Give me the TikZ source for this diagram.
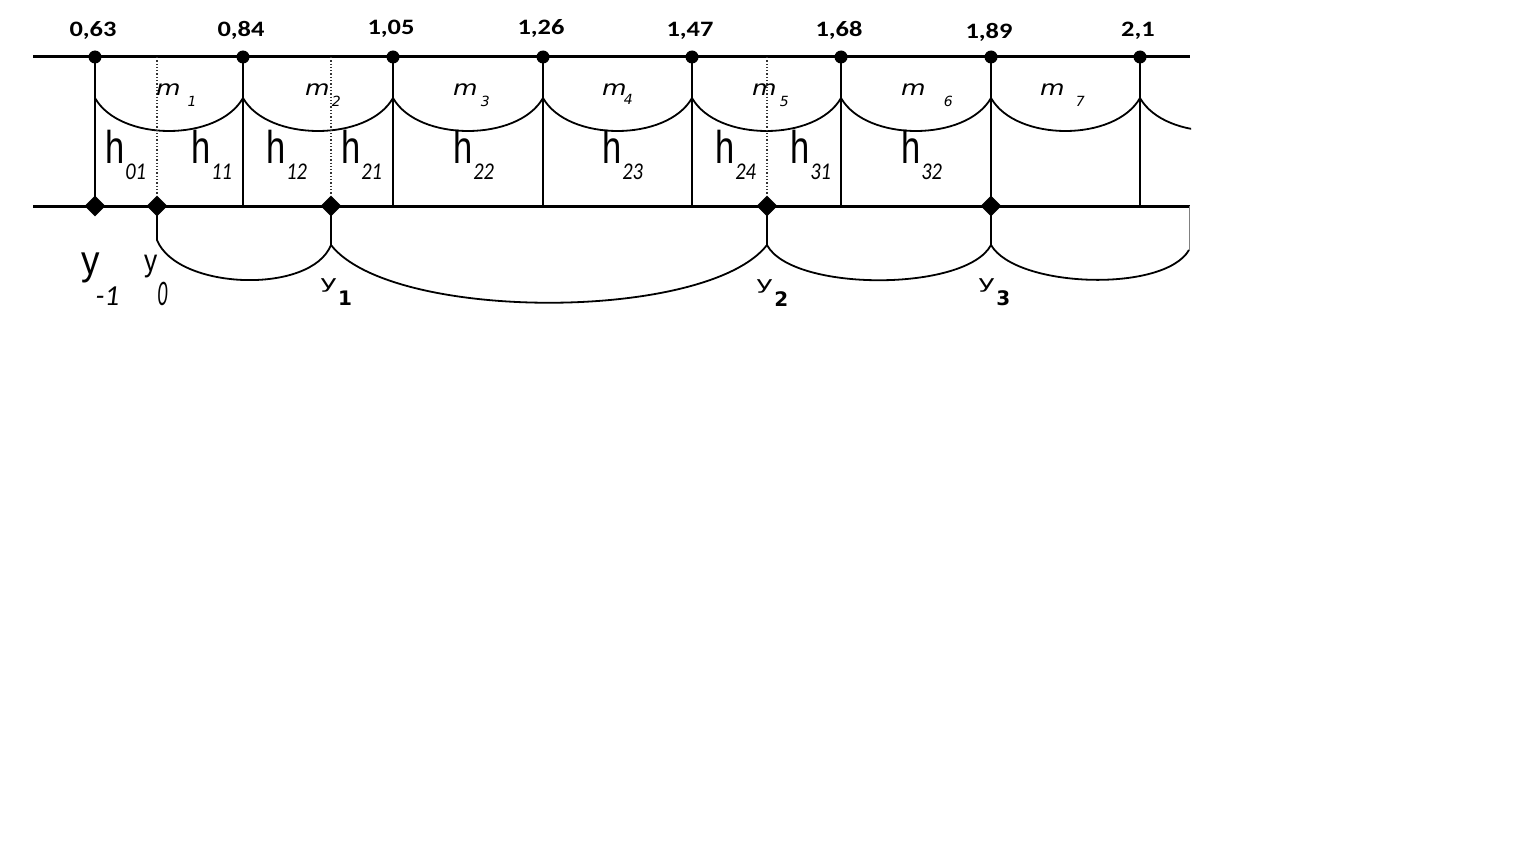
\documentclass[tikz,border=0pt]{standalone}
\usepackage{fontspec}
\setmainfont{Carlito}
\newfontfamily\vfont{DejaVu Sans}
\newfontfamily\nfont{Liberation Sans}
\usetikzlibrary{shapes.geometric}

\newcommand{\mlab}[3]{{\vfont\itshape\fontsize{21}{21}\selectfont\scalebox{1.2}[1]{m}}\hspace{#1}\raisebox{#2}{\vfont\itshape\fontsize{14}{14}\selectfont #3}}
\newcommand{\hlab}[1]{{\nfont\fontsize{46}{46}\selectfont\scalebox{0.75}[1]{h}}\hspace{1pt}\raisebox{-17pt}{\fontsize{24}{24}\selectfont\itshape\scalebox{0.85}[1]{#1}}}
\newcommand{\ylab}[1]{{\vfont\fontsize{18}{18}\selectfont\scalebox{1.6}[1]{y}}\hspace{1pt}\raisebox{-17pt}{\vfont\bfseries\fontsize{20}{20}\selectfont #1}}

\tikzset{
  dot/.style={circle,fill,inner sep=0pt,minimum size=13pt},
  dmd/.style={diamond,fill,inner sep=0pt,minimum size=21pt},
  rail/.style={line width=3pt},
  wire/.style={line width=1.8pt},
  cut/.style={line width=1.3pt,dotted,black!80},
  txt/.style={inner sep=0pt,anchor=base west}
}

\begin{document}
\begin{tikzpicture}[x=1pt,y=-1pt]
\useasboundingbox[fill=white] (0,0) rectangle (1536,864);
% rails
\coordinate (tl) at (33,57); \coordinate (tr) at (1190,57);
\coordinate (bl) at (33,206); \coordinate (br) at (1190,206);
\draw[rail] (tl) -- (tr);
\draw[rail] (bl) -- (br);
% grid points and values
\foreach \x/\v/\b [count=\i] in {95/{0,63}/37,243/{0,84}/37,393/{1,05}/35,543/{1,26}/35,692/{1,47}/37,841/{1,68}/37,991/{1,89}/39,1140/{2,1}/37}{
  \node[dot] (t\i) at (\x,57) {};
  \coordinate (b\i) at (\x,206);
  \coordinate (c\i) at (\x,98);
  \draw[wire] (t\i.center) -- (b\i);
  \node[anchor=base,inner sep=0pt,font=\fontsize{22}{22}\selectfont\bfseries] (v\i) at (\x-2,\b) {\scalebox{1.2}[1]{\v}};
}
\coordinate (c9) at (1289,98);
% upper arcs
\foreach \i [evaluate=\i as \j using int(\i+1)] in {1,...,7}
  \draw[wire] (c\i) .. controls +(25,44) and +(-25,44) .. (c\j);
\begin{scope}
  \clip (0,0) rectangle (1191,864);
  \draw[wire] (c8) .. controls +(25,44) and +(-25,44) .. (c9);
\end{scope}
% y points
\node[dmd] (ym) at (b1) {};
\node[dmd] (y0) at (157,206) {};
\node[dmd] (y1) at (331,206) {};
\node[dmd] (y2) at (767,206) {};
\node[dmd] (y3) at (b7) {};
\draw[cut] (y0 |- tl) -- (y0.north);
\draw[cut] (y1 |- tl) -- (y1.north);
\draw[cut] (y2 |- tl) -- (y2.north);
% lower arcs
\coordinate (k0) at (157,240); \coordinate (k1) at (331,245);
\coordinate (k2) at (767,245); \coordinate (k3) at (991,245);
\coordinate (k4) at (1189,250); \coordinate (e4) at (1189,206);
\draw[wire] (y0.center) -- (k0) .. controls +(20,50) and +(-20,50) .. (k1);
\draw[wire] (y1.center) -- (k1) .. controls +(60,77) and +(-60,77) .. (k2);
\draw[wire] (y2.center) -- (k2) .. controls +(25,47) and +(-25,47) .. (k3);
\draw[wire] (y3.center) -- (k3) .. controls +(25,43) and +(-25,43) .. (k4);
\draw[line width=1pt,gray] (e4) -- (k4);
% m labels
\node[txt] (m1) at (156,96) {\mlab{7pt}{-11pt}{1}};
\node[txt] (m2) at (305,96) {\mlab{2pt}{-11pt}{2}};
\node[txt] (m3) at (453,96) {\mlab{3pt}{-11pt}{3}};
\node[txt] (m4) at (602,96) {\mlab{-3pt}{-9pt}{4}};
\node[txt] (m5) at (752,96) {\mlab{3pt}{-11pt}{5}};
\node[txt] (m6) at (901,96) {\mlab{18pt}{-11pt}{6}};
\node[txt] (m7) at (1040,96) {\mlab{11pt}{-11pt}{7}};
% h labels
\node[txt] (h01) at (105,163) {\hlab{01}};
\node[txt] (h11) at (191,163) {\hlab{11}};
\node[txt] (h12) at (266,163) {\hlab{12}};
\node[txt] (h21) at (341,163) {\hlab{21}};
\node[txt] (h22) at (453,163) {\hlab{22}};
\node[txt] (h23) at (602,163) {\hlab{23}};
\node[txt] (h24) at (715,163) {\hlab{24}};
\node[txt] (h31) at (790,163) {\hlab{31}};
\node[txt] (h32) at (901,163) {\hlab{32}};
% y labels
\node[txt] (lym) at (81,274) {{\nfont\fontsize{41}{41}\selectfont\scalebox{0.9}[1]{y}}\hspace{-4pt}\raisebox{-31pt}{\fontsize{29}{29}\selectfont\itshape -1}};
\node[txt] (ly0) at (144,271) {{\nfont\fontsize{31}{31}\selectfont\scalebox{0.85}[1]{y}}\raisebox{-34pt}{\fontsize{36}{36}\selectfont\itshape\scalebox{0.55}[1]{0}}};
\node[txt] (ly1) at (320,288) {\ylab{1}};
\node[txt] (ly2) at (756,289) {\ylab{2}};
\node[txt] (ly3) at (978,288) {\ylab{3}};
\end{tikzpicture}
\end{document}
